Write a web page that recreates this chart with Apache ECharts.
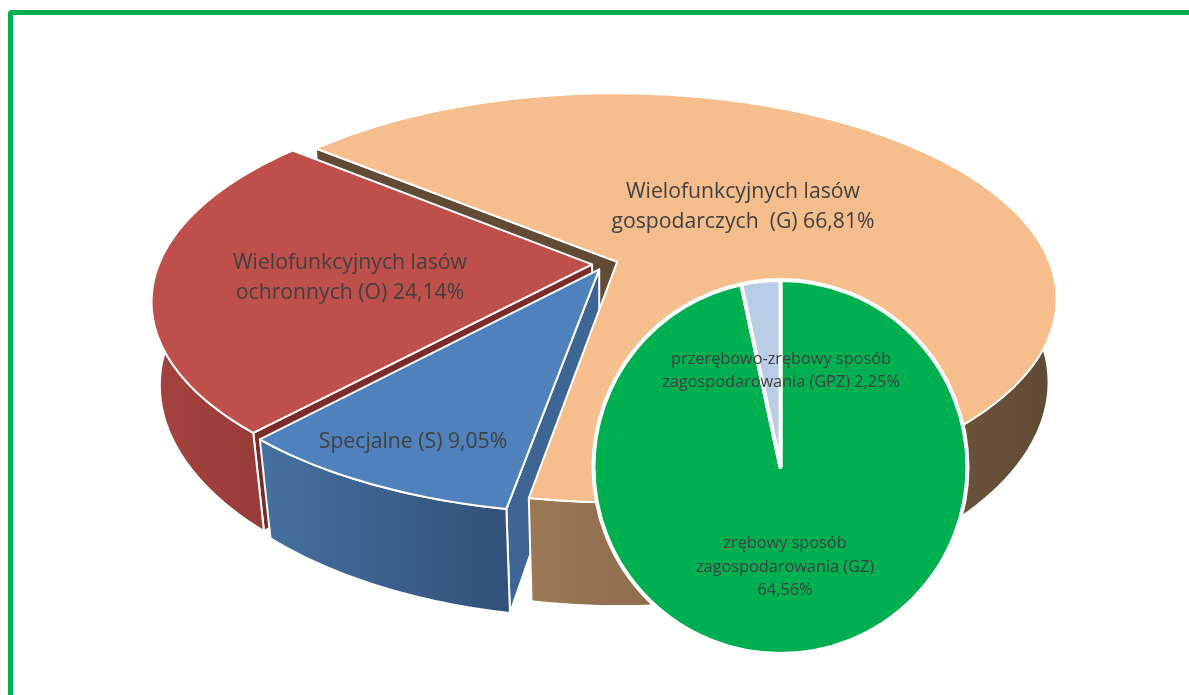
<!DOCTYPE html>
<html>
<head>
<meta charset="utf-8">
<style>
html, body { margin: 0; padding: 0; background: #fff; }
#main { width: 1189px; height: 695px; }
</style>
<script src="https://cdn.jsdelivr.net/npm/echarts@6/dist/echarts.min.js"></script>
</head>
<body>
<div id="main"></div>
<script>
// main pie, clockwise from the gap on the far left
var sliceNames = ['Wielofunkcyjnych lasów\ngospodarczych  (G) 66,81%', 'Specjalne (S) 9,05%', 'Wielofunkcyjnych lasów\nochronnych (O) 24,14%'];
var sliceValues = [66.81, 9.05, 24.14];
// the small pie splits the G slice
var subNames = ['zrębowy sposób\nzagospodarowania (GZ)\n64,56%', 'przerębowo-zrębowy sposób\nzagospodarowania (GPZ) 2,25%'];
var subValues = [64.56, 2.25];

var topColors = ['#F7BE8D', '#4F81BD', '#BE4F4B'];
var cutColors = ['#614A36', '#3D6695', '#7A2B2A'];
var wallLeft = ['#9C7855', '#45719F', '#A5423F'];
var wallRight = ['#604935', '#31507A', '#973C39'];

var startDeg = -50.5;   // where the first slice begins, 0 = far side of the disc
var explode = 0.03;
var persp = 0.176;
var depth = 0.43;       // wall height, in y axis units
var taper = 0.036;      // bottom of the disc is a bit narrower, most on the near side

// slice start, end and middle in radians
var angles = [];
var acc = startDeg;
var total = sliceValues.reduce(function (a, b) { return a + b; }, 0);
sliceValues.forEach(function (v) {
	var a0 = acc;
	acc += v / total * 360;
	angles.push({ a0: a0 * Math.PI / 180, a1: acc * Math.PI / 180, mid: (a0 + acc) / 2 * Math.PI / 180 });
});

var chart = echarts.init(document.getElementById('main'));

// disc point to axis coordinates, low = bottom of the wall
function project(api, x, y, low) {
	var w = 1 - persp * y;
	if (low) {
		return api.coord([x / w * (1 - taper * (0.4 + 0.6 * Math.max(y, 0))), y / w + depth / w]);
	}
	return api.coord([x / w, y / w]);
}

function renderSlice(params, api) {
	var layer = params.dataIndex;
	// 0 is only the far cut of G, it has to lie under the O slice
	var i = [0, 2, 1, 0][layer];
	var s = angles[i];
	var ox = explode * Math.sin(s.mid);
	var oy = -explode * Math.cos(s.mid);
	var top = [], wallTop = [], wallLow = [];
	var n = Math.ceil((s.a1 - s.a0) * 180 / Math.PI);
	for (var k = 0; k <= n; k++) {
		var a = s.a0 + (s.a1 - s.a0) * k / n;
		var x = ox + Math.sin(a);
		var y = oy - Math.cos(a);
		top.push(project(api, x, y, false));
		if (Math.cos(a) < 0.02) {
			wallTop.push(project(api, x, y, false));
			wallLow.push(project(api, x, y, true));
		}
	}
	var edge = { stroke: '#fff', lineWidth: 2, lineJoin: 'round' };
	var ex = ox + Math.sin(s.a0), ey = oy - Math.cos(s.a0);
	var cutFace = {
		type: 'polygon',
		shape: { points: [project(api, ox, oy, false), project(api, ex, ey, false), project(api, ex, ey, true), project(api, ox, oy, true)] },
		style: Object.assign({ fill: cutColors[i] }, edge)
	};
	if (layer === 0) {
		return { type: 'group', children: [cutFace] };
	}
	var children = [];
	if (layer !== 3) {
		children.push(cutFace);
	}
	children.push({
		type: 'polygon',
		shape: { points: wallTop.concat(wallLow.reverse()) },
		style: Object.assign({
			fill: new echarts.graphic.LinearGradient(0, 0, 1, 0, [
				{ offset: 0, color: wallLeft[i] },
				{ offset: 1, color: wallRight[i] }
			])
		}, edge)
	});
	children.push({
		type: 'polygon',
		shape: { points: [project(api, ox, oy, false)].concat(top) },
		style: Object.assign({ fill: topColors[i] }, edge)
	});
	return { type: 'group', children: children };
}

function outerLabel(i, x, y) {
	return {
		type: 'text', x: x, y: y, z: 100,
		style: { text: sliceNames[i], fill: '#404040', font: '21.2px "Open Sans"', align: 'center', verticalAlign: 'middle', lineHeight: 30 }
	};
}

var option = {
	animation: false,
	backgroundColor: '#fff',
	grid: { left: 172, top: 65, width: 866, height: 398 },
	xAxis: { type: 'value', min: -1, max: 1, show: false },
	yAxis: { type: 'value', min: -1, max: 1, inverse: true, show: false },
	graphic: [
		{ type: 'rect', z: 0, shape: { x: 10.5, y: 12.5, width: 1300, height: 800, r: 1 }, style: { fill: 'none', stroke: '#00B050', lineWidth: 5 } },
		outerLabel(0, 743, 207),
		outerLabel(2, 350, 278),
		outerLabel(1, 413, 442)
	],
	series: [
		{
			type: 'custom',
			coordinateSystem: 'cartesian2d',
			renderItem: renderSlice,
			clip: false,
			silent: true,
			data: [[0, 0], [0, 0], [0, 0], [0, 0]],
			z: 2
		},
		{
			type: 'pie',
			z: 5,
			center: [780.5, 467],
			radius: 187,
			startAngle: 90,
			clockwise: true,
			silent: true,
			itemStyle: { borderColor: '#fff', borderWidth: 4 },
			label: {
				show: true,
				position: 'inside',
				color: '#404040',
				fontFamily: 'Open Sans',
				fontSize: 16.3,
				lineHeight: 23.5,
				align: 'center',
				formatter: function (p) { return subNames[p.dataIndex]; }
			},
			labelLayout: function (p) {
				return p.dataIndex === 0 ? { x: 785, y: 567, align: 'center', verticalAlign: 'middle' } : { x: 781, y: 371, align: 'center', verticalAlign: 'middle' };
			},
			data: [
				{ value: subValues[0], itemStyle: { color: '#00B050' } },
				{ value: subValues[1], itemStyle: { color: '#B9CDE5' } }
			]
		}
	]
};
chart.setOption(option);
</script>
</body>
</html>
